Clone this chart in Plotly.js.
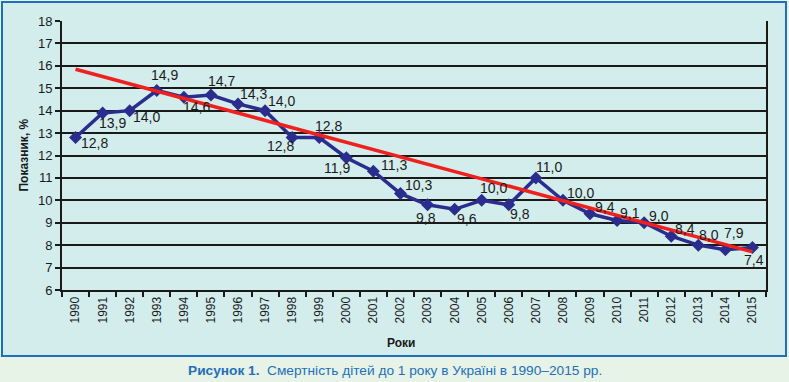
<!DOCTYPE html>
<html><head><meta charset="utf-8">
<script src="https://cdn.plot.ly/plotly-3.0.1.min.js"></script>
<style>html,body{margin:0;padding:0;background:#e6f3e6;}#chart{width:789px;height:382px;}</style>
</head><body><div id="chart"></div>
<script>
var years = ['1990','1991','1992','1993','1994','1995','1996','1997','1998','1999','2000','2001','2002','2003','2004','2005','2006','2007','2008','2009','2010','2011','2012','2013','2014','2015'];
var values = [12.8,13.9,14.0,14.9,14.6,14.7,14.3,14.0,12.8,12.8,11.9,11.3,10.3,9.8,9.6,10.0,9.8,11.0,10.0,9.4,9.1,9.0,8.4,8.0,7.8,7.9];
var labels = ['12,8','13,9','14,0','14,9','14,6','14,7','14,3','14,0','12,8','12,8','11,9','11,3','10,3','9,8','9,6','10,0','9,8','11,0','10,0','9,4','9,1','9,0','8,4','8,0','7,9','7,4'];
var trendYears = ['1990','2015'];
var trendValues = [15.85, 7.7];
// label offsets in px (dx right, dy down)
var labelDx = [19,9.5,16.5,8,12.5,10.5,15.5,16.5,-12,9.5,-9.5,20.5,18,-1.5,12.5,11.5,11.5,13.5,17.5,14.5,13,14.5,14,11,8.5,1.5];
var labelDy = [5.5,10,6,-15.6,9.6,-13.7,-9.6,-10,8,-11.7,10.5,-6.3,-8.7,13,10,-12,9,-10.7,-7.7,-7,-8,-6.8,-7,-10,-16.7,13];

var FONT = 'Liberation Sans, Arial, sans-serif';
var annotations = years.map(function(y,i){
  return {x:years.indexOf(y), y:values[i], text:labels[i], showarrow:false, xref:'x', yref:'y',
    xanchor:'center', yanchor:'middle',
    xshift:labelDx[i], yshift:-labelDy[i], font:{family:FONT,size:14,color:'#1a1a1a'}};
});
annotations.push({xref:'paper',yref:'paper',x:(401-62)/704,y:(290-343)/269,xanchor:'center',yanchor:'middle',text:'<b>Роки</b>',showarrow:false,font:{family:FONT,size:12,color:'#1a1a1a'}});
annotations.push({xref:'paper',yref:'paper',x:(395-62)/704,y:(290-370)/269,xanchor:'center',yanchor:'middle',text:'<b>Рисунок 1.</b>  Смертність дітей до 1 року в Україні в 1990–2015 рр.',showarrow:false,font:{family:FONT,size:13.7,color:'#1f6fc0'}});
annotations.push({xref:'paper',yref:'paper',x:(23-62)/704,y:0.5,xanchor:'center',yanchor:'middle',text:'<b>Показник, %</b>',textangle:-90,showarrow:false,font:{family:FONT,size:12,color:'#1a1a1a'}});

var traces = [
  {x:years, y:values, type:'scatter', mode:'lines+markers', line:{color:'#2b2d8e',width:3.5}, marker:{symbol:'diamond',size:10,color:'#2b2d8e'}, hoverinfo:'none'},
  {x:trendYears, y:trendValues, type:'scatter', mode:'lines', line:{color:'#f0201e',width:3.5}, hoverinfo:'none'}
];
var layout = {
  width:789, height:382,
  margin:{l:62,r:23,t:21,b:92},
  paper_bgcolor:'#e6f3e6', plot_bgcolor:'rgba(0,0,0,0)',
  showlegend:false,
  xaxis:{type:'category', range:[-0.5,25.5], tickson:'boundaries', ticks:'outside', ticklen:5, tickwidth:2, tickcolor:'#1a1a1a',
    showline:true, linecolor:'#1a1a1a', linewidth:2, showgrid:false, tickangle:-90,
    tickfont:{family:FONT,size:12,color:'#1a1a1a'}, fixedrange:true},
  yaxis:{range:[6,18], dtick:1, ticks:'outside', ticklen:5, tickwidth:2, tickcolor:'#1a1a1a',
    showline:true, mirror:true, linecolor:'#1a1a1a', linewidth:2, showgrid:true, gridcolor:'#1a1a1a', gridwidth:2, zeroline:false,
    tickfont:{family:FONT,size:13,color:'#1a1a1a'}, fixedrange:true},
  shapes:[{type:'rect', xref:'paper', yref:'paper', layer:'below',
    x0:(2-62)/704, x1:(786-62)/704, y0:(290-356)/269, y1:(290-2)/269,
    fillcolor:'#d3eded', line:{color:'#1f6fc0',width:2}}],
  annotations:annotations
};
Plotly.newPlot('chart', traces, layout, {displayModeBar:false, staticPlot:true});
</script></body></html>
